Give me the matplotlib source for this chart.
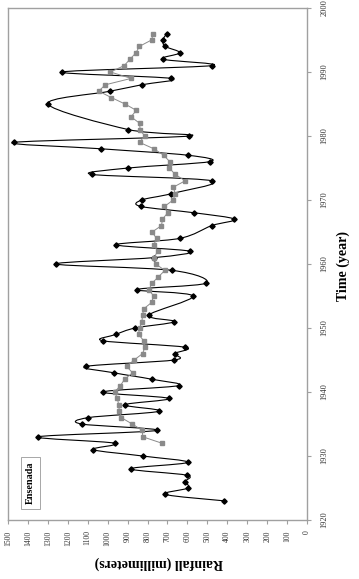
import numpy as np
import matplotlib
matplotlib.use("Agg")
import matplotlib.pyplot as plt
from matplotlib.path import Path
from matplotlib.patches import PathPatch

# ---- data ----
years = [1923, 1924, 1925, 1926, 1927, 1928, 1929, 1930, 1931, 1932, 1933, 1934,
         1935, 1936, 1937, 1938, 1939, 1940, 1941, 1942, 1943, 1944, 1945, 1946,
         1947, 1948, 1949, 1950, 1951, 1952, 1955, 1956, 1957, 1959, 1960, 1961,
         1962, 1963, 1964, 1966, 1967, 1968, 1969, 1970, 1971, 1973, 1974, 1975,
         1976, 1977, 1978, 1979, 1980, 1981, 1985, 1987, 1988, 1989, 1990, 1991,
         1992, 1993, 1994, 1995, 1996]
rainfall = [418, 711, 597, 611, 604, 884, 599, 825, 1072, 965, 1349, 755,
            1131, 1097, 740, 915, 693, 1024, 644, 780, 968, 1109, 666, 664,
            613, 1023, 958, 862, 666, 795, 572, 854, 507, 675, 1258, 767,
            589, 956, 639, 478, 364, 565, 834, 830, 680, 478, 1080, 896,
            487, 599, 1032, 1471, 590, 896, 1300, 988, 830, 683, 1228, 478,
            723, 638, 711, 723, 703]

avg_years = list(range(1932, 1997))
moving_avg = [728, 824, 826, 877, 932, 941, 945, 951, 965, 936, 915, 875, 905,
              867, 825, 813, 819, 845, 840, 828, 825, 819, 779, 770, 793, 778,
              745, 713, 759, 766, 750, 768, 755, 777, 730, 725, 699, 715, 671,
              661, 671, 611, 662, 690, 689, 719, 768, 840, 815, 837, 840, 883,
              856, 913, 981, 1045, 1012, 882, 986, 917, 888, 858, 841, 780, 771]

rain_ticks = list(range(0, 1501, 100))
year_ticks = list(range(1920, 2001, 10))

serif = ["Liberation Serif", "DejaVu Serif"]

fig = plt.figure(figsize=(3.59, 5.79), dpi=100)
W, H = 359, 579
ax = fig.add_axes([8 / W, 59 / H, 299 / W, 512 / H])

# smoothed line (Excel-like) through the annual points
P = np.column_stack([rainfall, years]).astype(float)
n = len(P)
verts = [P[0]]
codes = [Path.MOVETO]
for i in range(n - 1):
    p0 = P[i - 1] if i > 0 else P[i]
    p1 = P[i]
    p2 = P[i + 1]
    p3 = P[i + 2] if i + 2 < n else P[i + 1]
    c1 = p1 + (p2 - p0) / 6.0
    c2 = p2 - (p3 - p1) / 6.0
    verts += [c1, c2, p2]
    codes += [Path.CURVE4] * 3
ax.add_patch(PathPatch(Path(verts, codes), fill=False, edgecolor="black",
                       lw=0.8, zorder=2))
ax.plot(rainfall, years, linestyle="none", marker="D", ms=2.7,
        color="black", zorder=3)

ax.plot(moving_avg, avg_years, color="#8a8a8a", lw=0.7, marker="s", ms=2.8,
        zorder=4)

ax.set_xlim(1500, 0)
ax.set_ylim(1920, 2000)

for s in ax.spines.values():
    s.set_color("#a0a0a0")
    s.set_linewidth(1.0)

ax.set_xticks(rain_ticks)
ax.set_xticklabels([str(t) for t in rain_ticks], rotation=90,
                   fontsize=5.5, family=serif)
ax.yaxis.tick_right()
ax.set_yticks(year_ticks)
ax.set_yticklabels([str(t) for t in year_ticks], rotation=90,
                   fontsize=6, family=serif, va="center")
ax.tick_params(axis="x", direction="out", length=3, width=0.8,
               color="#a0a0a0", pad=4.5, labelcolor="#333333")
ax.tick_params(axis="y", direction="out", length=3, width=0.8,
               color="#a0a0a0", pad=6.5, labelcolor="#333333")

fig.text(343 / W, 1 - 266 / H, "Time (year)", rotation=90, ha="center",
         va="center", fontsize=10, fontweight="bold", family=serif)
fig.text(159 / W, 1 - 563 / H, "Rainfall (millimeters)", rotation=180,
         ha="center", va="center", fontsize=10, fontweight="bold",
         family=serif)

fig.text(30.5 / W, 1 - 483 / H, "Ensenada", rotation=90, ha="center",
         va="center", fontsize=7.3, fontweight="bold", family=serif,
         bbox=dict(boxstyle="square,pad=0.45", fc="white", ec="#999999",
                   lw=0.6))

fig.savefig("out.png", dpi=100, facecolor="white")
